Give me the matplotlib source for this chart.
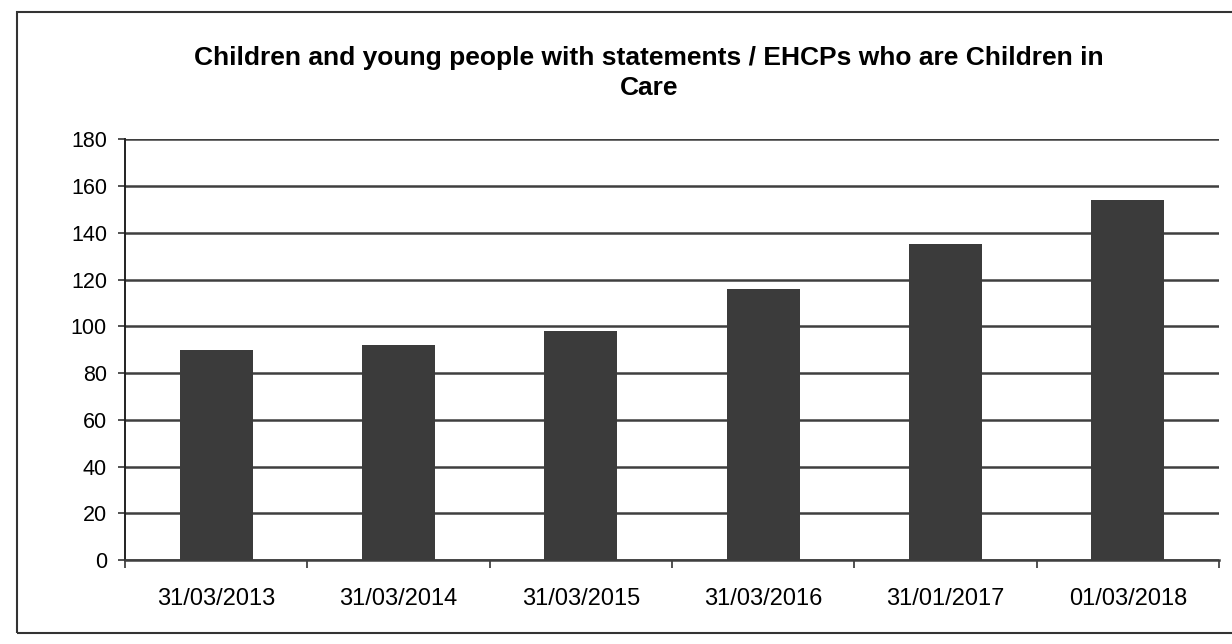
import matplotlib
matplotlib.use("Agg")
from matplotlib import pyplot as plt
from matplotlib.patches import Rectangle
import numpy as np

plt.rcParams['font.family'] = ['Liberation Sans', 'DejaVu Sans']

dates = ['31/03/2013', '31/03/2014', '31/03/2015', '31/03/2016', '31/01/2017', '01/03/2018']
counts = [90, 92, 98, 116, 135, 154]
yticks = np.arange(0, 181, 20)

fig = plt.figure(figsize=(12.32, 6.44), dpi=100)
ax = fig.add_axes([0.1015, 0.1304, 0.8879, 0.6533])

x = np.arange(len(dates))
ax.bar(x, counts, width=0.4, color='#3b3b3b', zorder=3)

ax.set_xlim(-0.5, len(dates) - 0.5)
ax.set_ylim(0, 180)
ax.set_yticks(yticks)
ax.yaxis.grid(True, color='#3f3f3f', linewidth=1.8, zorder=1)
ax.set_axisbelow(True)

# labels in the middle, tick marks on the category borders
ax.set_xticks(x)
ax.set_xticklabels(dates, fontsize=17)
ax.tick_params(axis='x', length=0, pad=20)
ax.set_xticks(np.arange(-0.5, len(dates)), minor=True)
ax.tick_params(axis='x', which='minor', length=6, width=1.2, color='#333333')
ax.tick_params(axis='y', labelsize=15.5, length=5, width=1.2, color='#333333', pad=8)

for s in ['top', 'right']:
    ax.spines[s].set_visible(False)
ax.spines['left'].set_color('#222222')
ax.spines['left'].set_linewidth(1.4)
ax.spines['bottom'].set_color('#3f3f3f')
ax.spines['bottom'].set_linewidth(1.8)

fig.text(0.527, 0.91, 'Children and young people with statements / EHCPs who are Children in',
         ha='center', va='center', fontsize=19, fontweight='bold')
fig.text(0.527, 0.863, 'Care', ha='center', va='center', fontsize=19, fontweight='bold')

# outer frame of the chart area
fig.patches.append(Rectangle((0.0138, 0.017), 1.0, 0.964, transform=fig.transFigure,
                             fill=False, edgecolor='#333333', linewidth=1.5))

fig.savefig('out.png', dpi=100)
plt.close()
